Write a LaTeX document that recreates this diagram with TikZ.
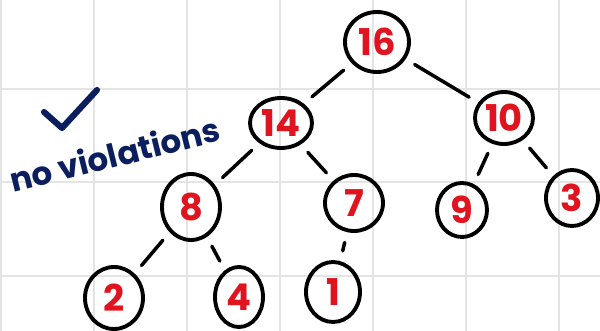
\documentclass[tikz,border=0pt]{standalone}
\usepackage{fontspec}
\setmainfont{Poppins}
\usetikzlibrary{shapes.geometric}

\definecolor{heapred}{HTML}{E0141E}
\definecolor{inkblue}{HTML}{0B1F5E}
\definecolor{gridgray}{HTML}{E4E4E4}

\begin{document}
\begin{tikzpicture}[x=0.02cm, y=-0.02cm, line cap=round, line join=round,
  heapkey/.style={ellipse, draw, line width=2.2pt, inner sep=0pt,
    text=heapred, font=\fontsize{21}{21}\selectfont\bfseries},
  wh/.style 2 args={minimum width=#1*0.02cm, minimum height=#2*0.02cm},
  link/.style={line width=2pt, shorten <=6pt, shorten >=6pt}]
  \useasboundingbox (0,0) rectangle (600,331);

  % Grid paper
  \foreach \x in {1,94,...,562}
    \draw[gridgray, line width=0.6pt] (\x,0) -- (\x,331);
  \foreach \y in {89,182,276}
    \draw[gridgray, line width=0.6pt] (0,\y) -- (600,\y);

  % Check mark and note
  \draw[inkblue, line width=3.5pt] (44,112) -- (62,128) -- (97,90);
  \node[inkblue, rotate=14, font=\fontsize{18.5}{18.5}\selectfont\bfseries] (note) at (115,154) {no violations};

  % Heap nodes
  \node[heapkey, wh={64}{60}] (n16) at (377,42) {16};
  \node[heapkey, wh={62}{50}] (n14) at (281,123) {14};
  \node[heapkey, wh={58}{52}] (n10) at (504,118) {10};
  \node[heapkey, wh={58}{66}] (n8) at (191,207) {8};
  \node[heapkey, wh={58}{56}] (n7) at (354,203) {7};
  \node[heapkey, wh={50}{54}] (n9) at (462,210) {9};
  \node[heapkey, wh={52}{56}] (n3) at (572,198) {3};
  \node[heapkey, wh={58}{62}] (n2) at (114,298) {2};
  \node[heapkey, wh={48}{60}] (n4) at (239,297) {4};
  \node[heapkey, wh={54}{60}] (n1) at (333,292) {1};

  % Edges
  \draw[link] (n16) -- (n14);
  \draw[link] (n16) -- (n10);
  \draw[link] (n14) -- (n8);
  \draw[link] (n14) -- (n7);
  \draw[link] (n10) -- (n9);
  \draw[link] (n10) -- (n3);
  \draw[link] (n8) -- (n2);
  \draw[link] (n8) -- (n4);
  \draw[link] (n7) -- (n1);
\end{tikzpicture}
\end{document}
